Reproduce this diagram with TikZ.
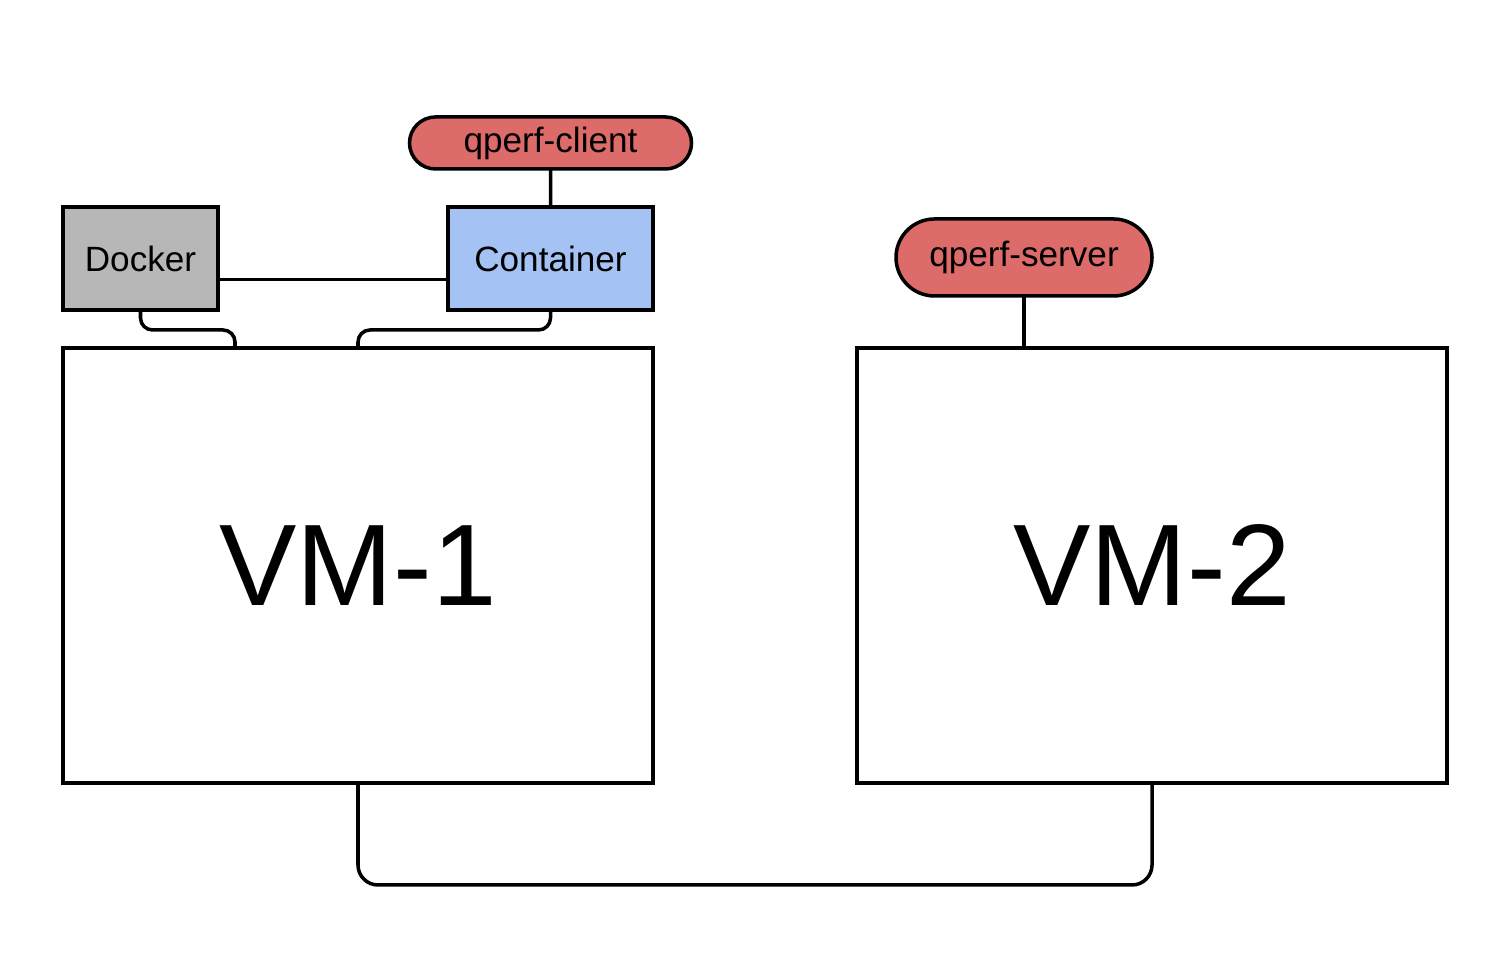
\documentclass[tikz,border=0pt]{standalone}
\usepackage{fontspec}
\setmainfont{Liberation Sans}
\usetikzlibrary{positioning,shapes.misc}
\definecolor{dockgray}{HTML}{B7B7B7}
\definecolor{contblue}{HTML}{A4C2F4}
\definecolor{qperfred}{HTML}{DC6B6A}

\begin{document}
\begin{tikzpicture}[node distance=2cm,
    every node/.style={inner sep=0pt, outer sep=0pt},
    box/.style={draw, line width=1pt, minimum height=1.03cm, font=\fontsize{10}{12}\selectfont},
    pill/.style={draw, line width=1pt, rounded rectangle, fill=qperfred, font=\fontsize{10}{12}\selectfont},
    vm/.style={draw, line width=1pt, minimum width=5.9cm, minimum height=4.35cm, font=\fontsize{33}{38}\selectfont},
    wire/.style={line width=1pt, rounded corners=0.12cm}]
    \useasboundingbox (0,0) rectangle (14.96,9.54);

    \node (vm1) [vm] at (3.58,3.885) {VM-1};
    \node (vm2) [vm] at (11.52,3.885) {VM-2};
    \node (cont) [box, fill=contblue, minimum width=2.05cm] at (5.505,6.955) {Container};
    \node (dock) [box, fill=dockgray, minimum width=1.55cm, left=2.3cm of cont] {Docker};
    \node (client) [pill, minimum width=2.82cm, minimum height=0.52cm, above=0.38cm of cont] {qperf-client};
    \node (server) [pill, minimum width=2.56cm, minimum height=0.77cm] at (10.24,6.965) {qperf-server};

    \coordinate (dk) at (2.35,6.24);
    \coordinate (ct) at (3.58,6.24);
    \coordinate (bus) at (7.55,0.69);

    \draw[wire] (client) -- (cont);
    \draw[wire] ([yshift=-0.21cm]dock.east) -- ([yshift=-0.21cm]cont.west);
    \draw[wire] (dock.south) |- (dk) -- (dk |- vm1.north);
    \draw[wire] (cont.south) |- (ct) -- (ct |- vm1.north);
    \draw[wire] (server.south) -- (server.south |- vm2.north);
    \draw[wire, rounded corners=0.2cm] (vm1.south) |- (bus) -| (vm2.south);
\end{tikzpicture}
\end{document}
